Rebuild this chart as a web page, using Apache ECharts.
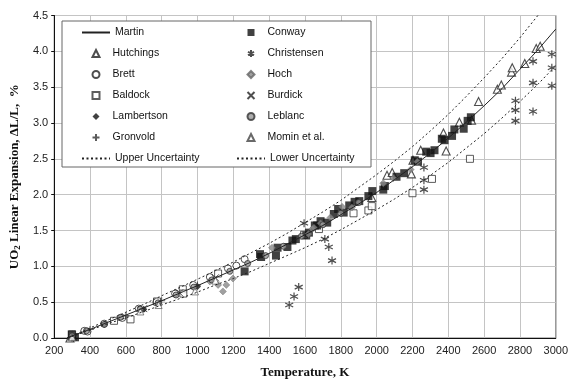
<!DOCTYPE html>
<html>
<head>
<meta charset="utf-8">
<script src="https://cdn.jsdelivr.net/npm/echarts@6/dist/echarts.min.js"></script>
<style>
  html, body { margin: 0; padding: 0; background: #fff; }
  #chart { width: 571px; height: 384px; }
</style>
</head>
<body>
<div id="chart"></div>
<script>
// Martin correlation and its uncertainty band
const martinT = [273, 300, 400, 500, 600, 700, 800, 923, 1000, 1100, 1200, 1300, 1400, 1500, 1600, 1700, 1800, 1900, 2000, 2100, 2200, 2300, 2400, 2500, 2600, 2700, 2800, 2900, 3000];
const martinV = [0.00, 0.03, 0.12, 0.22, 0.32, 0.42, 0.52, 0.65, 0.73, 0.84, 0.95, 1.06, 1.18, 1.31, 1.44, 1.57, 1.72, 1.87, 2.03, 2.21, 2.39, 2.58, 2.79, 3.01, 3.24, 3.48, 3.75, 4.02, 4.31];
const upperV = [0.00, 0.03, 0.14, 0.25, 0.36, 0.47, 0.59, 0.73, 0.82, 0.94, 1.06, 1.19, 1.32, 1.46, 1.61, 1.76, 1.92, 2.10, 2.28, 2.47, 2.67, 2.89, 3.12, 3.37, 3.63, 3.90, 4.19, 4.50, 4.83];
const lowerV = [0.00, 0.02, 0.11, 0.20, 0.28, 0.37, 0.46, 0.57, 0.64, 0.74, 0.83, 0.93, 1.04, 1.15, 1.26, 1.38, 1.51, 1.65, 1.79, 1.94, 2.10, 2.27, 2.45, 2.65, 2.85, 3.07, 3.30, 3.54, 3.80];

// measured data [T (K), dL/L (%)]
const conway = [[298, 0.05], [316, 0.01], [1263, 0.93], [1349, 1.17], [1355, 1.13], [1438, 1.15], [1447, 1.26], [1502, 1.27], [1530, 1.36], [1549, 1.38], [1607, 1.43], [1622, 1.47], [1655, 1.57], [1668, 1.57], [1687, 1.63], [1724, 1.61], [1761, 1.73], [1785, 1.80], [1816, 1.75], [1847, 1.85], [1877, 1.90], [1903, 1.91], [1954, 1.98], [1976, 2.05], [2037, 2.07], [2046, 2.12], [2111, 2.25], [2154, 2.30], [2213, 2.48], [2231, 2.46], [2277, 2.60], [2301, 2.58], [2323, 2.62], [2364, 2.78], [2379, 2.76], [2421, 2.82], [2434, 2.91], [2486, 2.92], [2508, 3.03], [2526, 3.08]];
const hutchings = [[288, 0.00], [300, 0.03], [1973, 1.96], [2058, 2.27], [2087, 2.31], [2194, 2.29], [2203, 2.48], [2246, 2.62], [2373, 2.86], [2388, 2.61], [2462, 3.01], [2530, 3.04], [2569, 3.30], [2674, 3.47], [2696, 3.53], [2753, 3.71], [2757, 3.77], [2827, 3.83], [2891, 4.04], [2913, 4.07]];
const christensen = [[1512, 0.46], [1539, 0.58], [1565, 0.71], [1595, 1.60], [1711, 1.38], [1733, 1.27], [1751, 1.08], [2264, 2.38], [2264, 2.20], [2264, 2.07], [2775, 3.31], [2775, 3.18], [2775, 3.03], [2873, 3.86], [2873, 3.56], [2873, 3.16], [2978, 3.96], [2978, 3.77], [2978, 3.52]];
const brett = [[368, 0.10], [386, 0.09], [479, 0.20], [580, 0.28], [672, 0.41], [770, 0.50], [875, 0.62], [976, 0.74], [1069, 0.85], [1170, 0.97], [1217, 1.01], [1263, 1.10]];
const hoch = [[1069, 0.79], [1115, 0.74], [1142, 0.65], [1161, 0.74], [1198, 0.83], [1416, 1.26], [1619, 1.45], [1641, 1.52], [1650, 1.54], [1687, 1.60], [1742, 1.68], [1807, 1.83], [1862, 1.82], [2037, 2.16], [2093, 2.23], [2190, 2.35], [2227, 2.46]];
const baldock = [[300, 0.05], [534, 0.24], [626, 0.26], [774, 0.51], [918, 0.68], [921, 0.62], [1115, 0.90], [1595, 1.44], [1678, 1.52], [1871, 1.74], [1954, 1.78], [1973, 1.84], [2200, 2.02], [2309, 2.22], [2521, 2.50]];
const burdick = [[700, 0.41], [900, 0.63], [1100, 0.84]];
const lambertson = [[300, 0.03], [480, 0.19], [700, 0.40], [1000, 0.72]];
const leblanc = [[300, 0.03], [380, 0.10], [480, 0.19], [570, 0.29], [680, 0.40], [780, 0.49], [880, 0.60], [980, 0.71], [1080, 0.81], [1180, 0.93], [1280, 1.04], [1380, 1.15], [1480, 1.28], [1580, 1.42], [1700, 1.58], [1800, 1.74], [1900, 1.89]];
const gronvold = [[400, 0.12], [600, 0.31], [800, 0.52], [1000, 0.74]];
const momin = [[300, 0.01], [681, 0.37], [783, 0.46], [986, 0.65], [1100, 0.80]];

// legend columns: line entries and marker entries
const leftLines = ["Martin", "Upper Uncertainty"];
const leftMarks = ["Hutchings", "Brett", "Baldock", "Lambertson", "Gronvold"];
const rightMarks = ["Conway", "Christensen", "Hoch", "Burdick", "Leblanc", "Momin et al."];
const rightLines = ["Lower Uncertainty"];

const asterisk = "path://M5,0L5,10M0.7,2.5L9.3,7.5M0.7,7.5L9.3,2.5";
const cross = "path://M0,0L10,10M0,10L10,0";
const plus = "path://M5,0L5,10M0,5L10,5";

function pairs(xs, ys) {
  return xs.map((x, i) => [x, ys[i]]);
}

function sc(name, data, symbol, size, style) {
  return {
    name: name,
    type: "scatter",
    data: data,
    symbol: symbol,
    symbolSize: size,
    itemStyle: style,
    z: 3,
  };
}

function ln(name, data, type) {
  return {
    name: name,
    type: "line",
    data: data,
    symbol: "none",
    lineStyle: { color: "#222", width: 1, type: type },
    itemStyle: { color: "#222", opacity: 0 },
    z: 4,
  };
}

const txt = { fontFamily: "Liberation Sans", fontSize: 10.5, lineHeight: 21, color: "#111" };

function lineLegend(left, top, gap, data) {
  return {
    orient: "vertical", left: left, top: top, itemWidth: 28, itemHeight: 7,
    itemGap: gap, padding: 0, z: 10, textStyle: txt, data: data,
  };
}

function markLegend(left, top, data) {
  return {
    orient: "vertical", left: left, top: top, itemWidth: 7, itemHeight: 7,
    itemGap: 0, padding: 0, z: 10, data: data,
    textStyle: Object.assign({ padding: [0, 0, 0, 8] }, txt),
  };
}

const chart = echarts.init(document.getElementById("chart"));
chart.setOption({
  animation: false,
  grid: { left: 53, right: 12, top: 15.5, bottom: 42, show: true, borderColor: "#777", borderWidth: 1 },
  graphic: {
    elements: [{
      type: "rect",
      z: 8,
      shape: { x: 62, y: 21, width: 309, height: 146 },
      style: { fill: "#fff", stroke: "#666", lineWidth: 1 },
    }],
  },
  legend: [
    lineLegend(81, 22, 105, leftLines),
    markLegend(91.5, 43, leftMarks),
    markLegend(246.5, 22, rightMarks),
    lineLegend(236, 148, 0, rightLines),
  ],
  xAxis: {
    type: "value",
    min: 200,
    max: 3000,
    interval: 200,
    name: "Temperature, K",
    nameLocation: "middle",
    nameGap: 28,
    nameTextStyle: { fontFamily: "Liberation Serif", fontWeight: "bold", fontSize: 13, color: "#111" },
    axisLine: { lineStyle: { color: "#111" } },
    axisTick: { show: false },
    axisLabel: { fontFamily: "Liberation Sans", fontSize: 11, color: "#222", margin: 7, formatter: (v) => String(v) },
    splitLine: { lineStyle: { color: "#c4c4c4" } },
  },
  yAxis: {
    type: "value",
    min: 0,
    max: 4.5,
    interval: 0.5,
    name: "{a|UO}{s|2}{a| Linear Expansion, ΔL/L,  %}",
    nameLocation: "middle",
    nameRotate: 90,
    nameGap: 30,
    nameTextStyle: {
      rich: {
        a: { fontFamily: "Liberation Serif", fontWeight: "bold", fontSize: 13, color: "#111" },
        s: { fontFamily: "Liberation Serif", fontWeight: "bold", fontSize: 9, color: "#111", verticalAlign: "bottom", padding: [6, 0, 0, 0] },
      },
    },
    axisLine: { show: true, lineStyle: { color: "#111" } },
    axisTick: { show: true, length: 3, lineStyle: { color: "#111" } },
    axisLabel: { fontFamily: "Liberation Sans", fontSize: 11, color: "#222", margin: 6, formatter: (v) => v.toFixed(1) },
    splitLine: { lineStyle: { color: "#c4c4c4" } },
  },
  series: [
    ln("Martin", pairs(martinT, martinV), "solid"),
    sc("Hutchings", hutchings, "triangle", 8, { color: "#fff", borderColor: "#222", borderWidth: 1.1 }),
    sc("Brett", brett, "circle", 7, { color: "#fff", borderColor: "#222", borderWidth: 1 }),
    sc("Baldock", baldock, "rect", 7, { color: "#fff", borderColor: "#333", borderWidth: 1 }),
    sc("Lambertson", lambertson, "diamond", 7, { color: "#111" }),
    sc("Gronvold", gronvold, plus, 7, { color: "transparent", borderColor: "#333", borderWidth: 1 }),
    ln("Upper Uncertainty", pairs(martinT, upperV), [2, 2.5]),
    sc("Conway", conway, "rect", 8, { color: "#111" }),
    sc("Christensen", christensen, asterisk, 8, { color: "transparent", borderColor: "#222", borderWidth: 1.2 }),
    sc("Hoch", hoch, "diamond", 7, { color: "#888", borderColor: "#666", borderWidth: 0.5 }),
    sc("Burdick", burdick, cross, 7, { color: "transparent", borderColor: "#222", borderWidth: 1 }),
    sc("Leblanc", leblanc, "circle", 6, { color: "#999", borderColor: "#333", borderWidth: 1 }),
    sc("Momin et al.", momin, "triangle", 7, { color: "#fff", borderColor: "#444", borderWidth: 0.8 }),
    ln("Lower Uncertainty", pairs(martinT, lowerV), [2, 2.5]),
  ],
});
</script>
</body>
</html>
